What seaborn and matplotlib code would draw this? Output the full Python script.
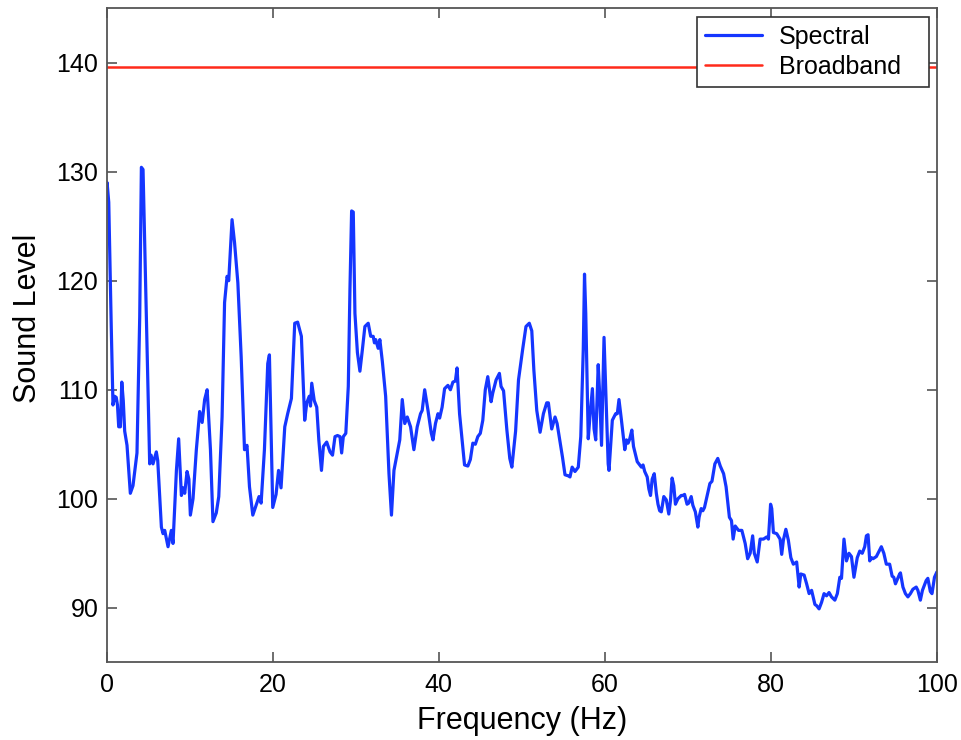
import numpy as np
import pandas as pd
import matplotlib
matplotlib.use('Agg')
import matplotlib.pyplot as plt
import seaborn as sns

# spectral sound level (Hz, level)
freq = [
    0.0, 0.05, 0.25, 0.55, 0.76, 0.96, 1.15, 1.3, 1.45, 1.65, 1.82, 2.0, 2.17, 2.45, 2.85, 3.17,
    3.65, 3.98, 4.18, 4.38, 4.78, 5.18, 5.35, 5.58, 5.98, 6.15, 6.59, 6.79, 6.99, 7.39, 7.79, 7.99,
    8.4, 8.67, 9.0, 9.2, 9.4, 9.68, 9.9, 10.08, 10.4, 10.8, 11.2, 11.5, 11.8, 12.1, 12.5, 12.8,
    13.2, 13.5, 13.9, 14.2, 14.5, 14.7, 15.1, 15.4, 15.8, 16.2, 16.6, 16.9, 17.2, 17.6, 18.0, 18.35,
    18.6, 19.0, 19.4, 19.6, 20.0, 20.4, 20.7, 21.0, 21.45, 21.8, 22.25, 22.65, 23.0, 23.45, 23.85, 24.1,
    24.4, 24.55, 24.7, 25.0, 25.3, 25.55, 25.87, 26.1, 26.5, 26.9, 27.2, 27.5, 27.8, 28.1, 28.3, 28.5,
    28.8, 29.1, 29.3, 29.5, 29.7, 29.9, 30.2, 30.5, 30.8, 31.1, 31.5, 31.8, 32.1, 32.25, 32.4, 32.7,
    32.9, 33.2, 33.6, 34.0, 34.3, 34.6, 35.0, 35.3, 35.6, 35.9, 36.2, 36.6, 37.0, 37.4, 37.8, 38.0,
    38.3, 38.7, 39.1, 39.3, 39.6, 39.9, 40.1, 40.4, 40.7, 41.1, 41.4, 41.7, 42.0, 42.2, 42.5, 42.8,
    43.1, 43.5, 43.8, 44.1, 44.4, 44.7, 45.0, 45.3, 45.6, 45.9, 46.3, 46.5, 46.9, 47.3, 47.5, 47.8,
    48.2, 48.55, 48.8, 49.25, 49.6, 50.1, 50.5, 50.9, 51.2, 51.45, 51.8, 52.2, 52.6, 53.0, 53.2, 53.6,
    54.0, 54.25, 54.6, 54.9, 55.2, 55.6, 55.8, 56.06, 56.4, 56.8, 57.1, 57.4, 57.55, 57.7, 58.0, 58.2,
    58.5, 58.7, 58.9, 59.2, 59.35, 59.6, 59.9, 60.1, 60.4, 60.5, 60.9, 61.3, 61.5, 61.7, 62.0, 62.4,
    62.6, 62.8, 63.0, 63.25, 63.45, 63.9, 64.4, 64.6, 64.8, 65.1, 65.3, 65.5, 65.7, 65.95, 66.2, 66.4,
    66.6, 66.8, 67.1, 67.4, 67.7, 67.9, 68.1, 68.3, 68.5, 68.8, 69.2, 69.4, 69.6, 69.9, 70.1, 70.4,
    70.6, 70.9, 71.2, 71.35, 71.6, 71.8, 72.0, 72.3, 72.65, 72.9, 73.25, 73.6, 73.9, 74.3, 74.6, 75.0,
    75.25, 75.45, 75.7, 76.1, 76.5, 76.9, 77.2, 77.5, 77.8, 78.0, 78.35, 78.7, 79.1, 79.5, 79.7, 79.96,
    80.1, 80.3, 80.7, 81.1, 81.3, 81.5, 81.8, 82.1, 82.4, 82.7, 83.1, 83.4, 83.6, 84.0, 84.3, 84.6,
    84.9, 85.3, 85.5, 85.8, 86.1, 86.4, 86.7, 87.0, 87.3, 87.7, 88.0, 88.3, 88.5, 88.8, 89.1, 89.4,
    89.7, 90.0, 90.4, 90.7, 91.0, 91.3, 91.5, 91.7, 91.9, 92.1, 92.3, 92.7, 93.3, 93.6, 93.9, 94.3,
    94.6, 94.8, 95.0, 95.5, 95.6, 95.9, 96.2, 96.5, 96.8, 97.1, 97.5, 97.7, 98.0, 98.25, 98.7, 98.9,
    99.2, 99.4, 99.7, 100.0,
]
level = [
    127.5, 129.0, 127.2, 115.8, 108.6, 109.4, 109.3, 108.6, 106.6, 106.6, 110.7, 109.0, 106.2, 104.9, 100.5, 101.2,
    104.2, 116.7, 130.4, 130.2, 116.7, 103.2, 104.0, 103.2, 104.3, 103.5, 97.4, 96.8, 97.1, 95.6, 97.1, 95.9,
    102.6, 105.5, 100.3, 101.0, 100.5, 102.5, 101.8, 98.5, 100.0, 104.5, 108.0, 107.0, 109.1, 110.0, 104.5, 97.9,
    98.7, 100.2, 107.5, 118.0, 120.4, 120.0, 125.6, 123.5, 119.8, 113.0, 104.5, 104.9, 101.1, 98.5, 99.4, 100.2,
    99.6, 104.5, 112.4, 113.2, 99.2, 100.4, 102.6, 101.0, 106.6, 107.8, 109.2, 116.1, 116.2, 114.9, 107.2, 108.8,
    109.4, 108.5, 110.6, 109.0, 108.4, 105.4, 102.6, 104.8, 105.2, 104.3, 104.0, 105.7, 105.8, 105.7, 104.2, 105.7,
    106.0, 110.3, 119.2, 126.4, 126.3, 117.0, 113.4, 111.7, 113.7, 115.8, 116.1, 114.9, 114.9, 114.3, 114.6, 113.8,
    114.6, 112.6, 109.4, 102.3, 98.5, 102.6, 104.2, 105.4, 109.1, 106.9, 107.5, 106.6, 104.5, 106.6, 107.8, 108.1,
    110.0, 108.1, 106.0, 105.4, 106.9, 107.8, 107.4, 108.4, 110.1, 110.4, 110.0, 110.7, 110.8, 112.0, 107.8, 105.4,
    103.1, 103.0, 103.6, 105.1, 105.0, 105.7, 106.0, 107.2, 110.0, 111.2, 108.9, 109.7, 110.9, 111.5, 110.3, 109.9,
    106.3, 103.7, 102.9, 106.2, 110.9, 113.7, 115.8, 116.1, 115.4, 111.8, 108.1, 106.1, 107.8, 108.8, 108.8, 106.4,
    107.5, 106.9, 105.2, 103.8, 102.2, 102.1, 102.0, 102.9, 102.5, 102.9, 105.7, 113.7, 120.6, 117.0, 105.5, 107.5,
    110.1, 106.4, 105.4, 112.3, 110.0, 104.9, 114.8, 110.1, 103.2, 102.6, 107.2, 107.8, 107.8, 109.1, 107.2, 104.5,
    105.4, 105.1, 105.5, 106.3, 104.8, 103.4, 102.9, 103.1, 102.5, 102.0, 100.9, 100.3, 101.8, 102.3, 100.5, 99.5,
    98.9, 98.8, 100.2, 99.9, 98.6, 99.8, 101.9, 101.2, 99.5, 100.0, 100.3, 100.3, 100.4, 99.5, 99.6, 100.2,
    99.4, 98.8, 97.4, 98.3, 99.1, 98.9, 99.2, 100.2, 101.4, 101.6, 103.2, 103.7, 103.0, 102.3, 101.1, 98.3,
    98.0, 96.3, 97.5, 97.1, 97.1, 95.9, 94.5, 95.0, 96.6, 95.0, 94.2, 96.3, 96.3, 96.5, 96.3, 99.5,
    99.1, 96.9, 96.8, 96.3, 94.9, 96.2, 97.2, 96.2, 94.6, 94.0, 94.2, 91.9, 93.1, 93.0, 92.2, 91.3,
    91.6, 90.3, 90.2, 89.9, 90.5, 91.3, 91.1, 91.4, 91.0, 90.7, 91.3, 92.8, 92.7, 96.3, 94.3, 95.0,
    94.7, 92.8, 94.6, 95.2, 95.0, 95.6, 96.6, 96.7, 94.3, 94.6, 94.5, 94.7, 95.6, 95.0, 94.0, 94.0,
    92.9, 92.8, 92.2, 93.1, 93.2, 91.9, 91.3, 91.0, 91.3, 91.7, 91.9, 91.6, 90.7, 91.6, 92.5, 92.7,
    91.5, 91.3, 92.8, 93.3,
]
broadband_level = 139.6

x_ticks = [0, 20, 40, 60, 80, 100]
y_ticks = [90, 100, 110, 120, 130, 140]

df = pd.DataFrame({'Frequency': freq, 'Level': level})

sns.set_theme(style='white')
plt.rcParams['font.family'] = ['Liberation Sans', 'DejaVu Sans']

fig = plt.figure(figsize=(9.61, 7.40), dpi=100)
ax = fig.add_axes([0.111, 0.105, 0.864, 0.884])

sns.lineplot(data=df, x='Frequency', y='Level', estimator=None, sort=False,
             color='#1536ff', linewidth=2.3, label='Spectral', ax=ax)
ax.axhline(broadband_level, color='#ff2a1a', linewidth=1.8, label='Broadband')

ax.set_xlim(0, 100)
ax.set_ylim(85, 145)
ax.set_xticks(x_ticks)
ax.set_yticks(y_ticks)
ax.set_xlabel('Frequency (Hz)', fontsize=22, color='black', labelpad=6)
ax.set_ylabel('Sound Level', fontsize=22, color='black', labelpad=10)
ax.yaxis.label.set_y(0.526)

ax.tick_params(direction='in', length=7, width=1.2, colors='#555555',
               labelsize=18, labelcolor='black', top=True, right=True,
               bottom=True, left=True)
ax.tick_params(axis='x', pad=8)
ax.tick_params(axis='y', pad=6)
for s in ax.spines.values():
    s.set_visible(True)
    s.set_color('#555555')
    s.set_linewidth(1.3)

# legend box stretched to the reference width, extra room goes to the right
leg = ax.legend(loc='upper left', bbox_to_anchor=(0.711, 0.5, 0.2795, 0.486),
                mode='expand', fontsize=18, frameon=True, fancybox=False,
                edgecolor='#333333', framealpha=1, handlelength=2.3,
                handletextpad=0.68, borderaxespad=0, borderpad=0.3,
                labelspacing=0.25, labelcolor='black')
leg.get_frame().set_linewidth(1.2)

fig.savefig('out.png', dpi=100)
